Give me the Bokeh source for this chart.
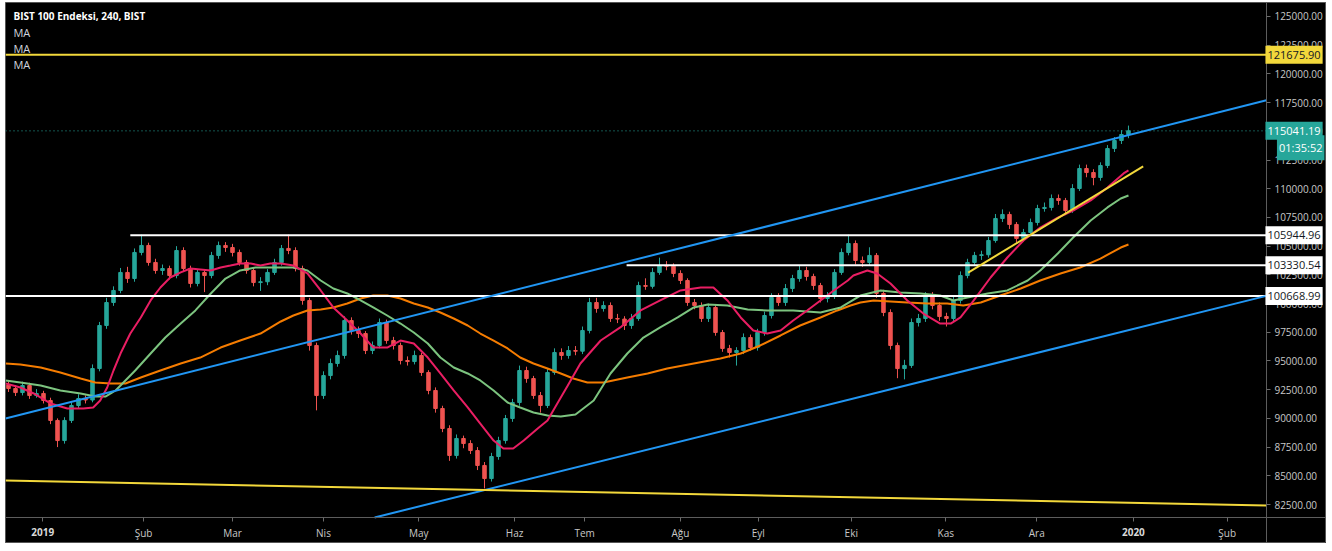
from bokeh.plotting import figure
from bokeh.models import ColumnDataSource, Range1d, FixedTicker, NumeralTickFormatter, Label, LinearAxis
from bokeh.embed import file_html
from bokeh.resources import INLINE

# ---------------- data ----------------
first_open = 92900
closes = [
    92600, 92250, 92860, 91990, 92170, 91560, 89820, 88070, 89820, 91120,
    91730, 91600, 94340, 98090, 100090, 101140, 102710, 102180, 104450, 105060,
    103580, 102880, 103050, 102440, 104620, 103050, 101750, 102710, 102440, 104190,
    105060, 104880, 104450, 103580, 102880, 101830, 101900, 102710, 103580, 104800,
    104620, 103050, 100270, 96350, 91990, 93730, 94780, 95480, 98520, 97650,
    97390, 95910, 96350, 98350, 96780, 96350, 95040, 94950, 95480, 94000,
    92430, 90860, 89120, 86770, 88250, 87810, 87200, 85900, 84760, 86680,
    88070, 89990, 91380, 94170, 93470, 91990, 91120, 94000, 95740, 95480,
    95910, 95850, 97650, 100090, 99570, 99830, 98700, 98650, 98090, 98700,
    101570, 101500, 102710, 103310, 103250, 102620, 102010, 100090, 99830, 98700,
    99660, 97480, 96090, 95740, 95910, 97040, 96170, 97480, 98960, 100530,
    100090, 101310, 102180, 102880, 102360, 101570, 100440, 100610, 102710, 104450,
    105230, 103750, 103580, 104190, 100880, 99220, 96350, 94340, 94610, 98350,
    98700, 100700, 99830, 98870, 98700, 100270, 102440, 103580, 104190, 104250,
    105490, 107410, 107760, 106890, 105670, 106190, 107060, 108280, 108370, 109150,
    108980, 108100, 110020, 111760, 111410, 110980, 112020, 113500, 114200, 114720,
    115041.19,
]
highs = [
    93250, 92900, 93200, 93100, 92550, 92400, 91800, 90000, 90100, 91400,
    92100, 92000, 94700, 98400, 100500, 101500, 103100, 103200, 104800, 106000,
    105300, 103900, 103400, 103300, 105000, 104900, 103300, 103000, 103000, 104500,
    105400, 105350, 105200, 104700, 103800, 103100, 102300, 103000, 103900, 105100,
    106000, 104900, 103300, 100500, 96600, 94100, 95200, 95900, 98900, 98800,
    98000, 97600, 96700, 98700, 98600, 97100, 96600, 95400, 95900, 95700,
    94200, 92700, 91100, 89400, 88600, 88500, 88100, 87500, 86200, 87000,
    88400, 90300, 91700, 94600, 94500, 93700, 92300, 94300, 96100, 96100,
    96300, 96300, 98000, 100500, 100500, 100200, 100100, 99100, 98900, 99100,
    101900, 102200, 103100, 104000, 103700, 103500, 102900, 102200, 100400, 100100,
    100000, 99900, 97700, 96400, 96200, 97400, 97300, 97800, 99300, 100900,
    100900, 101700, 102500, 103300, 103200, 102600, 101800, 101000, 103000, 104800,
    106000, 105500, 104100, 104900, 104400, 101200, 99500, 96600, 95100, 98700,
    99100, 101000, 101000, 100100, 99200, 100600, 102800, 103900, 104500, 104600,
    105800, 107800, 108200, 108000, 107100, 106500, 107400, 108600, 108800, 109500,
    109500, 109200, 110400, 112100, 112100, 111700, 112300, 113800, 114500, 115100,
    115500,
]
lows = [
    92300, 91950, 92000, 91700, 91800, 91300, 89500, 87500, 87800, 89600,
    90900, 91300, 91400, 94100, 97800, 99800, 100900, 101800, 101900, 104200,
    103300, 102600, 102500, 102100, 102200, 102800, 101400, 101500, 101000, 102200,
    103900, 104500, 104100, 103300, 102600, 101500, 101100, 101600, 102500, 103300,
    104300, 102800, 99900, 95900, 90700, 91700, 93400, 94500, 95200, 97300,
    97000, 95600, 95600, 96100, 96500, 96000, 94700, 94600, 94700, 93700,
    92100, 90500, 88800, 86300, 86500, 87400, 86900, 85500, 83900, 84500,
    86400, 87800, 89700, 91100, 93100, 91700, 90500, 90900, 93800, 95100,
    95200, 95500, 95600, 97400, 99200, 99300, 98400, 98300, 97700, 97800,
    98500, 101200, 101300, 102500, 102900, 102300, 101700, 99800, 99500, 98400,
    98400, 97200, 95800, 95300, 94600, 95600, 95900, 95900, 97200, 98700,
    99800, 99800, 101000, 101900, 102000, 101200, 100100, 100100, 100400, 102500,
    104200, 103400, 103200, 103300, 100500, 98900, 96000, 93500, 93400, 94400,
    98000, 98400, 99500, 98500, 98000, 98400, 100000, 102200, 103300, 103800,
    104000, 105300, 107100, 106500, 105300, 105400, 105900, 106800, 108000, 108100,
    108600, 107700, 107900, 109800, 111000, 110300, 110700, 111800, 113200, 113900,
    114400,
]

# moving averages (bar position, value)
ma_fast_x = [-0.4, 1.7, 3.6, 6.0, 8.4, 10.7, 12.1, 13.1, 14.1, 15.0, 16.0, 17.4, 18.9, 20.3, 21.7,
             23.1, 24.6, 26.0, 27.4, 28.9, 30.3, 31.7, 33.1, 34.6, 36.0, 37.4, 38.9, 40.7, 42.7,
             44.6, 46.4, 48.4, 50.3, 52.1, 54.1, 56.0, 57.9, 59.9, 61.7, 63.6, 65.6, 67.4, 69.3,
             70.7, 72.1, 73.6, 75.6, 77.0, 78.4, 79.9, 81.7, 84.6, 87.4, 90.3, 93.1, 96.0, 98.9,
             100.7, 102.7, 104.6, 106.4, 108.4, 110.3, 112.1, 114.1, 116.0, 117.9, 119.9, 120.7,
             122.7, 124.1, 126.0, 128.4, 130.7, 133.1, 134.6, 136.0, 137.9, 140.3, 142.7, 145.0,
             147.4, 149.9, 152.1, 154.6, 157.0, 159.3, 160.0]
ma_fast = [93040, 92690, 92170, 91300, 90860, 90860, 90950, 91560, 92690, 94170, 95650, 97390, 98790,
           100270, 101400, 102270, 102710, 103050, 102970, 102880, 103140, 103310, 103490, 103490,
           103310, 103490, 103490, 103310, 102620, 101140, 99660, 98520, 97390, 96170, 96170, 96780,
           96520, 95300, 93910, 92430, 90950, 89550, 88070, 87380, 87380, 88070, 89120, 89820, 91300,
           92860, 94780, 96780, 97920, 99400, 100270, 101140, 101400, 101400, 100270, 98790, 97650,
           97390, 97650, 98520, 99400, 100270, 101140, 102010, 102440, 102880, 102620, 101750, 100270,
           99130, 98260, 98260, 98790, 100270, 102270, 104010, 105490, 106620, 107490, 108100, 108980,
           110110, 111330, 111590]
ma_mid_x = [-0.4, 1.7, 4.6, 7.4, 10.3, 12.4, 13.9, 15.3, 16.7, 18.1, 20.3, 22.4, 24.6, 26.7, 28.9,
            31.0, 33.1, 35.3, 37.4, 40.7, 42.7, 44.6, 46.4, 48.4, 50.3, 52.1, 54.1, 56.0, 57.9, 59.9,
            61.7, 63.6, 65.6, 67.4, 69.3, 71.3, 73.1, 75.0, 77.0, 78.9, 81.0, 83.6, 86.0, 88.4, 90.7,
            93.1, 95.6, 97.9, 99.9, 102.7, 105.6, 108.4, 112.1, 116.0, 118.9, 121.7, 124.6, 127.4,
            130.3, 133.1, 135.0, 137.0, 139.9, 142.7, 145.6, 147.4, 149.9, 152.1, 154.6, 157.0, 158.9,
            160.0]
ma_mid = [93300, 93130, 92860, 92430, 92170, 91910, 91910, 92430, 93300, 94170, 95650, 97040, 98260,
          99400, 100880, 102180, 102880, 103140, 103140, 103140, 102880, 102010, 101310, 100880,
          100270, 99660, 98960, 98260, 97480, 96520, 95300, 94430, 93910, 93300, 92430, 91380, 90950,
          90510, 90250, 90160, 90340, 91560, 93910, 95650, 97040, 97920, 98790, 99660, 99920, 99830,
          99480, 99400, 99400, 99220, 99660, 100700, 101140, 100960, 100880, 100700, 100270, 100530,
          100880, 101140, 102010, 102880, 104360, 105750, 107230, 108370, 109150, 109410]
ma_slow_x = [-0.4, 1.7, 4.6, 7.4, 10.3, 12.4, 14.6, 16.7, 18.9, 21.7, 24.6, 27.4, 30.3, 33.1, 36.0,
             38.9, 40.7, 42.7, 44.6, 46.4, 48.4, 50.3, 52.1, 54.1, 56.0, 57.9, 59.9, 61.7, 63.6, 65.6,
             67.4, 69.3, 71.3, 73.1, 75.0, 77.0, 78.9, 80.7, 82.7, 85.0, 88.4, 91.3, 94.1, 97.9, 101.7,
             104.6, 107.4, 110.3, 113.1, 116.0, 118.4, 120.3, 121.7, 123.6, 126.0, 128.4, 131.3, 134.1,
             136.4, 138.9, 141.7, 144.6, 147.4, 150.3, 153.1, 156.0, 158.9, 160.0]
ma_slow = [94780, 94690, 94430, 94000, 93470, 93130, 93040, 93040, 93560, 94170, 94780, 95300, 96170,
           96780, 97390, 98440, 98960, 99400, 99480, 99660, 100010, 100440, 100700, 100700, 100440,
           100010, 99660, 99220, 98700, 98090, 97390, 96780, 96090, 95300, 94780, 94340, 93910, 93470,
           93130, 93130, 93560, 93910, 94340, 94780, 95220, 95650, 96350, 97220, 98090, 98790, 99400,
           99830, 100090, 100270, 100180, 100090, 100010, 100010, 99830, 100090, 100700, 101310,
           102010, 102620, 103140, 103920, 104880, 105140]

month_ticks = [4.9, 19.3, 32.0, 45.0, 58.6, 72.3, 82.3, 96.0, 107.1, 120.4, 133.9, 146.9, 160.7, 174.1]
month_labels = ["2019", "Şub", "Mar", "Nis", "May", "Haz", "Tem", "Ağu", "Eyl", "Eki", "Kas", "Ara", "2020", "Şub"]
price_ticks = [82500, 85000, 87500, 90000, 92500, 95000, 97500, 100000, 102500, 105000,
               107500, 110000, 112500, 115000, 117500, 120000, 122500, 125000]

# drawn levels / trendlines
level_top = 121675.90
level_last = 115041.19
white_levels = [105944.96, 103330.54, 100668.99]
white_starts = [17.4, 88.3, -0.5]
channel_up_x = [-0.43, 179.71]
channel_up_y = [89990, 117700]
channel_low_x = [52.3, 179.71]
channel_low_y = [81370, 100668.99]
yellow_long_x = [-0.43, 179.71]
yellow_long_y = [84590, 82420]
yellow_short_x = [137.1, 162.1]
yellow_short_y = [102700, 111940]
countdown = "01:35:52"

# ---------------- figure ----------------
X0, XAX, X1 = -0.43, 179.71, 188.29      # left edge, price scale line, right edge
Y0, YAX, Y1 = 79104, 81368, 126219       # bottom edge, time scale line, top edge
FONT = "Open Sans"
p = figure(width=1321, height=541, output_backend="svg", toolbar_location=None,
           x_range=Range1d(X0, X1), y_range=Range1d(Y0, Y1),
           x_axis_location=None, y_axis_location=None,
           min_border_left=0, min_border_top=0, min_border_right=0, min_border_bottom=0,
           background_fill_color="black", border_fill_color="black",
           outline_line_color="#555555", margin=(2, 6, 8, 5))
p.grid.visible = False

yax = LinearAxis(fixed_location=XAX, ticker=FixedTicker(ticks=price_ticks),
                 formatter=NumeralTickFormatter(format="0.00"))
xax = LinearAxis(fixed_location=YAX, ticker=FixedTicker(ticks=month_ticks))
xax.major_label_overrides = {t: ("" if l in ("2019", "2020") else l) for t, l in zip(month_ticks, month_labels)}
for ax in (xax, yax):
    ax.axis_line_color = "#5d5d5d"
    ax.major_tick_line_color = "#6b6b6b"
    ax.major_tick_in = 0
    ax.major_tick_out = 4
    ax.minor_tick_line_color = None
    ax.major_label_text_color = "#c8c8c8"
    ax.major_label_text_font = FONT
    ax.major_label_text_font_size = "10px"
    ax.major_label_standoff = 4
p.add_layout(yax, "right")
p.add_layout(xax, "below")

# candles
n = len(closes)
bars = list(range(n))
opens = [first_open] + closes[:-1]
colors = ["#26a69a" if c >= o else "#ef5350" for o, c in zip(opens, closes)]
src = ColumnDataSource(dict(x=bars, open=opens, close=closes, high=highs, low=lows, color=colors))
p.segment("x", "high", "x", "low", source=src, line_color="color", line_width=1)
p.vbar(x="x", width=0.5, top="open", bottom="close", source=src, fill_color="color", line_color="color")

# moving averages
p.line(ma_slow_x, ma_slow, line_color="#f57c00", line_width=2)
p.line(ma_mid_x, ma_mid, line_color="#7cc47f", line_width=2)
p.line(ma_fast_x, ma_fast, line_color="#e91e63", line_width=2)

# levels and trendlines
p.segment(x0=[X0], y0=[level_last], x1=[XAX], y1=[level_last], line_color="#26a69a",
          line_dash="1 3", line_width=1)
p.segment(x0=[X0], y0=[level_top], x1=[XAX], y1=[level_top], line_color="#f2d83b", line_width=2)
for lv, xs in zip(white_levels, white_starts):
    p.segment(x0=[max(xs, X0)], y0=[lv], x1=[XAX], y1=[lv], line_color="white", line_width=2)
p.line(channel_up_x, channel_up_y, line_color="#2196f3", line_width=2)
p.line(channel_low_x, channel_low_y, line_color="#2196f3", line_width=2)
p.line(yellow_long_x, yellow_long_y, line_color="#f2d83b", line_width=2)
p.line(yellow_short_x, yellow_short_y, line_color="#f2d83b", line_width=2)

# title / legend texts
def px_to_price(py):
    return 125000 - (py - 16) * 87.09

p.add_layout(Label(x=0.71, y=px_to_price(16), text="BIST 100 Endeksi, 240, BIST", text_color="white",
                   text_font=FONT, text_font_size="10px", text_font_style="bold", text_baseline="middle"))
for k in range(3):
    p.add_layout(Label(x=0.71, y=px_to_price(32 + 16 * k), text="MA", text_color="#d1d4dc",
                       text_font=FONT, text_font_size="11px", text_baseline="middle"))

# bold year labels on the time scale
for t, l in zip(month_ticks, month_labels):
    if l in ("2019", "2020"):
        p.add_layout(Label(x=t, y=px_to_price(531), text=l, text_color="#d8d8d8", text_font=FONT,
                           text_font_size="10px", text_font_style="bold", text_align="center",
                           text_baseline="middle"))

# price tags on the price scale
tags = [(level_top, "#f2d83b", "#131722"), (level_last, "#26a69a", "white")] + \
       [(lv, "white", "#131722") for lv in white_levels]
for lv, bg, fg in tags:
    p.add_layout(Label(x=XAX, y=lv, x_offset=-1, text=f"{lv:.2f}", text_color=fg, text_font=FONT,
                       text_font_size="11px", text_baseline="middle", text_align="left",
                       background_fill_color=bg, padding=(2, 5)))
p.add_layout(Label(x=XAX + 1.5, y=level_last, y_offset=-17, text=countdown, text_color="white",
                   text_font=FONT, text_font_size="11px", text_baseline="middle", text_align="left",
                   background_fill_color="#26a69a", padding=(2, 5)))

open("out.html", "w").write(file_html(p, INLINE))
